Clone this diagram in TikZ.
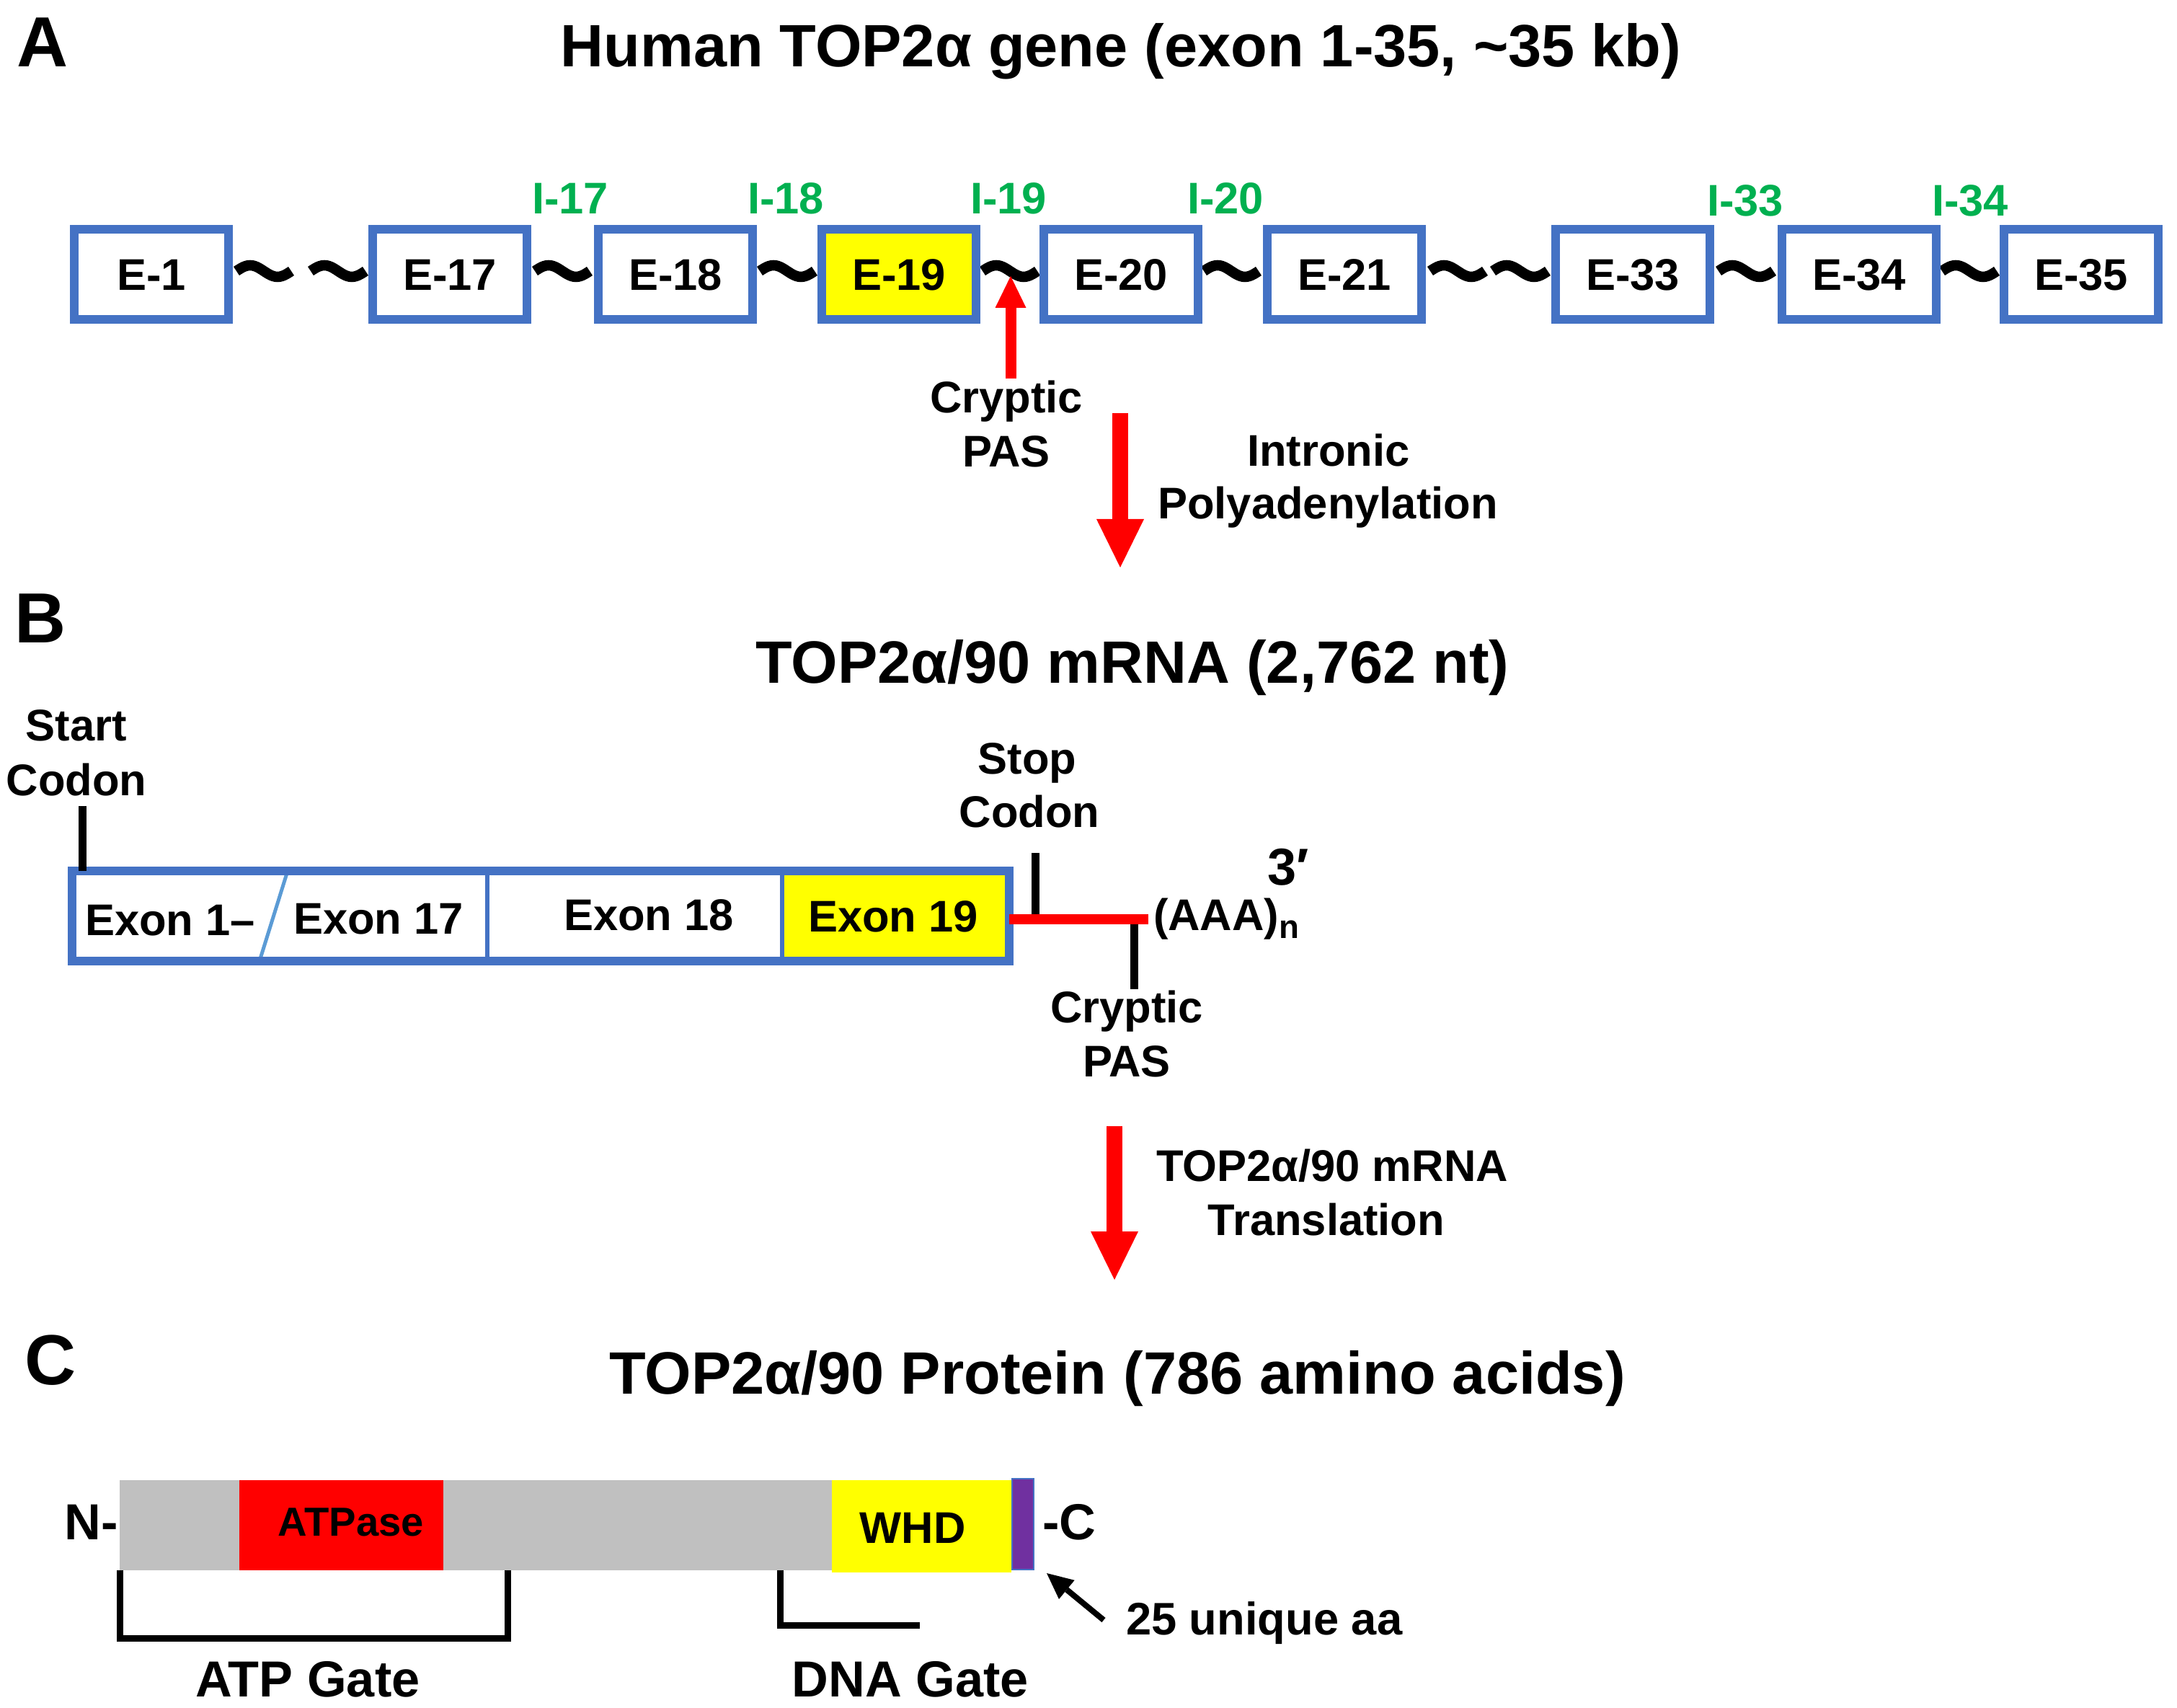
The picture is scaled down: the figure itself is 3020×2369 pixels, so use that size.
\documentclass[tikz,border=0pt]{standalone}
\usepackage{fontspec}
\setmainfont{Liberation Sans}
\usetikzlibrary{arrows.meta}
\definecolor{exblue}{HTML}{4472C4}
\definecolor{slashblue}{HTML}{5B9BD5}
\definecolor{exyellow}{HTML}{FFFF00}
\definecolor{exred}{HTML}{FF0000}
\definecolor{exgreen}{HTML}{00B050}
\definecolor{exgrey}{HTML}{C0C0C0}
\definecolor{expurple}{HTML}{7030A0}
\begin{document}
\begin{tikzpicture}[x=0.1mm, y=-0.1mm,
  every node/.style={inner sep=0pt, outer sep=0pt},
  lab/.style={anchor=base, font=\bfseries\fontsize{17.5}{20}\selectfont},
  ttl/.style={anchor=base, font=\bfseries\fontsize{23.6}{28}\selectfont},
  letter/.style={anchor=base, font=\bfseries\fontsize{28}{32}\selectfont},
  glab/.style={lab, text=exgreen},
  exon/.style={draw=exblue, line width=1.2mm, fill=white, minimum width=21.4mm, minimum height=12.5mm, font=\bfseries\fontsize{17.5}{20}\selectfont},
  codonline/.style={line width=1.1mm},
  bigarrow/.style={draw=exred, line width=2.2mm, -{Triangle[width=6.6mm,length=6.7mm,line width=0pt]}},
  tld/.pic={\draw[line width=1.45mm] plot[smooth, domain=-1:1, samples=25] ({\x*38}, {8*sin(\x*180)});},
]
\useasboundingbox (0,0) rectangle (3020,2369);

% ---------------- A ----------------
\node[letter] (lA) at (59,93) {A};
\node[ttl] (tA) at (1555,93) {Human TOP2α gene (exon 1-35, \textasciitilde35 kb)};

\foreach \tx in {366,469,780,1092,1401,1708,2022,2109,2422,2732}
  \pic at (\tx,376) {tld};

\node[exon] (e1)  at (210,381)  {E-1};
\node[exon] (e17) at (624,381)  {E-17};
\node[exon] (e18) at (937,381)  {E-18};
\node[exon, fill=exyellow] (e19) at (1247,381) {E-19};
\node[exon] (e20) at (1555,381) {E-20};
\node[exon] (e21) at (1865,381) {E-21};
\node[exon] (e33) at (2265,381) {E-33};
\node[exon] (e34) at (2579,381) {E-34};
\node[exon] (e35) at (2887,381) {E-35};

\node[glab] (i17) at (791,297)  {I-17};
\node[glab] (i18) at (1090,297) {I-18};
\node[glab] (i19) at (1399,297) {I-19};
\node[glab] (i20) at (1700,297) {I-20};
\node[glab] (i33) at (2421,300) {I-33};
\node[glab] (i34) at (2733,300) {I-34};

\coordinate (pasAbot) at (1402,525);
\coordinate (pasAtip) at (1402,383);
\draw[draw=exred, line width=1.5mm, -{Triangle[width=4.3mm,length=4.4mm,line width=0pt]}] (pasAbot) -- (pasAtip);

\node[lab] (cpA1) at (1396,573) {Cryptic};
\node[lab] (cpA2) at (1396,648) {PAS};

\coordinate (arA1) at (1554,573);
\coordinate (arA2) at (1554,787);
\draw[bigarrow] (arA1) -- (arA2);
\node[lab] (ip1) at (1843,647) {Intronic};
\node[lab] (ip2) at (1842,720) {Polyadenylation};

% ---------------- B ----------------
\node[letter] (lB) at (56,892) {B};
\node[ttl] (tB) at (1571,948) {TOP2α/90 mRNA (2,762 nt)};

\node[lab] (st1) at (106,1028) {Start};
\node[lab] (st2) at (106,1103) {Codon};

\node[fill=exyellow, minimum width=31.5mm, minimum height=12.5mm] (x19fill) at (1242.5,1270.5) {};
\draw[exblue, line width=0.55mm] (676,1208) -- (676,1333);
\draw[exblue, line width=0.55mm] (1085,1208) -- (1085,1333);
\draw[slashblue, line width=0.5mm] (399,1208) -- (360,1333);
\node[draw=exblue, line width=1.2mm, minimum width=130mm, minimum height=12.5mm] (mrna) at (750,1270.5) {};

\node[lab] (x1) at (236,1297) {Exon 1–};
\node[lab] (x17) at (525,1295) {Exon 17};
\node[lab] (x18) at (900,1290) {Exon 18};
\node[lab] (x19) at (1239,1292) {Exon 19};

\coordinate (startTop) at (114,1118);
\draw[codonline] (startTop) -- (startTop |- mrna.north);

\coordinate (redEnd) at (1593,1275);
\coordinate (stopTop) at (1436,1183);
\coordinate (pasBbot) at (1573,1372);
\draw[codonline] (stopTop) -- (stopTop |- redEnd);
\draw[codonline] (pasBbot) -- (pasBbot |- redEnd);
\draw[exred, line width=1.4mm] (mrna.east |- redEnd) -- (redEnd);

\node[lab] (sp1) at (1425,1073) {Stop};
\node[lab] (sp2) at (1428,1147) {Codon};
\node[lab] (cpB1) at (1563,1418) {Cryptic};
\node[lab] (cpB2) at (1563,1493) {PAS};
\node[lab, anchor=base west] (polyA) at (1600,1290) {(AAA)\raisebox{-3.4pt}{\fontsize{13}{14}\selectfont n}};
\node[anchor=base west, font=\bfseries\fontsize{20.5}{24}\selectfont] (three) at (1758,1227) {3′};

\coordinate (arB1) at (1546,1562);
\coordinate (arB2) at (1546,1775);
\draw[bigarrow] (arB1) -- (arB2);
\node[lab] (tr1) at (1848,1638) {TOP2α/90 mRNA};
\node[lab] (tr2) at (1840,1713) {Translation};

% ---------------- C ----------------
\node[letter] (lC) at (70,1920) {C};
\node[ttl] (tC) at (1550,1933) {TOP2α/90 Protein (786 amino acids)};

\node[fill=exgrey, minimum width=98.8mm, minimum height=12.5mm] (prot) at (660,2115.5) {};
\node[fill=exred, minimum width=28.3mm, minimum height=12.5mm] (atpase) at (473.5,2115.5) {};
\node[fill=exyellow, minimum width=24.9mm, minimum height=12.8mm] (whd) at (1278.5,2117) {};
\node[fill=expurple, draw=exblue, line width=0.25mm, minimum width=3.0mm, minimum height=12.6mm] (uniq) at (1419,2114) {};

\node[anchor=base, font=\bfseries\fontsize{16}{18}\selectfont] (atptxt) at (487,2130) {ATPase};
\node[lab] (whdtxt) at (1266,2140) {WHD};
\node[anchor=base east, font=\bfseries\fontsize{20}{24}\selectfont] (nterm) at (164,2135) {N-};
\node[anchor=base west, font=\bfseries\fontsize{20}{24}\selectfont] (cterm) at (1446,2135) {-C};

\coordinate (atpR) at (704,2178);
\draw[line width=0.9mm] (prot.south west) -- ++(0,94) -| (atpR);
\coordinate (dnaT) at (1082,2178);
\draw[line width=0.9mm] (dnaT) -- (1082,2254) -- (1276,2254);

\node[anchor=base, font=\bfseries\fontsize{20}{23}\selectfont] (atpg) at (427,2353) {ATP Gate};
\node[anchor=base, font=\bfseries\fontsize{20}{23}\selectfont] (dnag) at (1263,2353) {DNA Gate};

\coordinate (uaTail) at (1531,2247);
\coordinate (uaTip) at (1452,2182);
\draw[line width=0.8mm, -{Triangle[width=3.4mm,length=3.6mm,line width=0pt]}] (uaTail) -- (uaTip);
\node[anchor=base west, font=\bfseries\fontsize{18}{21}\selectfont] (uatxt) at (1562,2267) {25 unique aa};

\end{tikzpicture}
\end{document}
